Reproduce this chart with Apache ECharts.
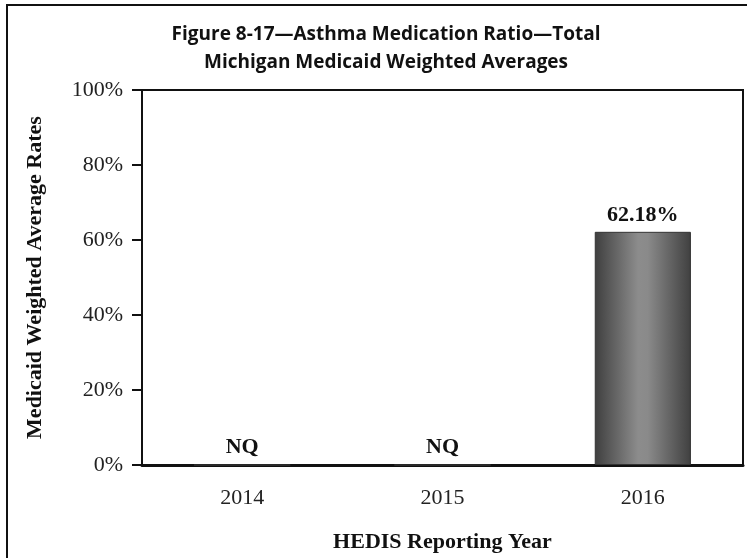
<!DOCTYPE html>
<html><head><meta charset="utf-8">
<script src="https://cdn.jsdelivr.net/npm/echarts@6/dist/echarts.min.js"></script>
<style>html,body{margin:0;padding:0;background:#fff}#c{width:747px;height:558px}</style>
</head><body><div id="c"></div>
<script>
const categories = ['2014', '2015', '2016'];
const rates = [null, null, 62.18];
const yTicks = [0, 20, 40, 60, 80, 100];

const chart = echarts.init(document.getElementById('c'));
const serif = '"Liberation Serif", "Times New Roman", serif';
const barColor = {
  type: 'linear', x: 0, y: 0, x2: 1, y2: 0,
  colorStops: [
    { offset: 0, color: '#3f3f3f' },
    { offset: 0.45, color: '#8c8c8c' },
    { offset: 0.55, color: '#8a8a8a' },
    { offset: 1, color: '#404040' }
  ]
};
chart.setOption({
  animation: false,
  backgroundColor: '#fff',
  title: [{
    text: 'Figure 8-17\u2014Asthma Medication Ratio\u2014Total\nMichigan Medicaid Weighted Averages',
    left: 381, top: 16, textAlign: 'center',
    textStyle: { fontFamily: '"Open Sans", sans-serif', fontWeight: 'bold', fontSize: 19, lineHeight: 28, color: '#111' }
  }],
  graphic: [{
    type: 'rect', shape: { x: 7, y: 5, width: 760, height: 580 },
    style: { fill: 'none', stroke: '#111', lineWidth: 2 }, silent: true
  }],
  grid: { left: 142, right: 4, top: 90, bottom: 93, show: true, borderColor: '#111', borderWidth: 2, backgroundColor: 'transparent' },
  xAxis: {
    type: 'category', data: categories,
    name: 'HEDIS Reporting Year', nameLocation: 'middle', nameGap: 66,
    nameTextStyle: { fontFamily: serif, fontWeight: 'bold', fontSize: 22, color: '#111' },
    axisLine: { lineStyle: { color: '#111', width: 3 } },
    axisTick: { alignWithLabel: true, length: 12, lineStyle: { color: '#111', width: 2 } },
    axisLabel: { fontFamily: serif, fontSize: 22, color: '#222', margin: 22 }
  },
  yAxis: {
    type: 'value', min: 0, max: 100, interval: 20,
    name: 'Medicaid Weighted Average Rates', nameLocation: 'middle', nameGap: 96,
    nameTextStyle: { fontFamily: serif, fontWeight: 'bold', fontSize: 22, color: '#111' },
    axisLine: { show: true, lineStyle: { color: '#111', width: 2 } },
    axisTick: { show: true, length: 10, lineStyle: { color: '#111', width: 2 } },
    splitLine: { show: false },
    axisLabel: { fontFamily: serif, fontSize: 22, color: '#222', margin: 19,
      formatter: v => yTicks.includes(v) ? v + '%' : '' }
  },
  series: [{
    type: 'bar', barWidth: '48%',
    data: rates.map(v => v === null
      ? { value: 0, label: { formatter: 'NQ' } }
      : { value: v }),
    itemStyle: { color: barColor, borderColor: '#333', borderWidth: 1 },
    label: {
      show: true, position: 'top', distance: 6,
      fontFamily: serif, fontWeight: 'bold', fontSize: 22, color: '#111',
      formatter: p => p.value.toFixed(2) + '%'
    }
  }]
});
</script></body></html>
